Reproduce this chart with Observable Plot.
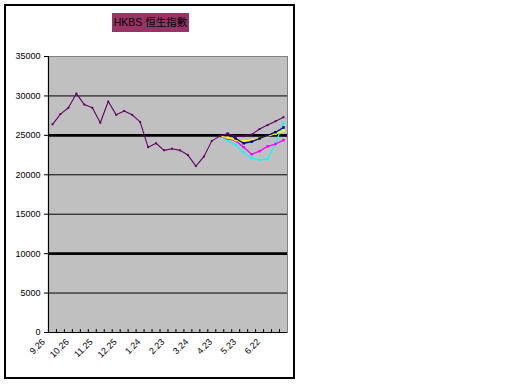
<!DOCTYPE html>
<html>
<head>
<meta charset="utf-8">
<script src="https://cdn.jsdelivr.net/npm/d3@7"></script>
<script src="https://cdn.jsdelivr.net/npm/@observablehq/plot@0.6"></script>
<style>
  html, body { margin: 0; padding: 0; background: #fff; }
  #wrap { position: relative; width: 512px; height: 384px; background: #fff; overflow: hidden; }
  #frame { position: absolute; left: 4px; top: 4px; width: 291px; height: 375px; border: 2px solid #000; box-sizing: border-box; }
  #title { position: absolute; left: 112px; top: 13px; width: 77px; height: 19px; background: #993366; color: #000;
           font: 10.5px "Liberation Sans", "Noto Sans CJK TC", sans-serif; line-height: 19px; text-align: center; white-space: nowrap; }
  #chart { position: absolute; left: 0; top: 0; }
</style>
</head>
<body>
<div id="wrap">
  <div id="frame"></div>
  <div id="chart"></div>
  <div id="title">HKBS 恒生指數</div>
</div>
<script>
// Categories (10-day steps) and shown tick labels
const categories = ["9.26","10.6","10.16","10.26","11.5","11.15","11.25","12.5","12.15","12.25",
  "1.4","1.14","1.24","2.3","2.13","2.23","3.4","3.14","3.24","4.3",
  "4.13","4.23","5.3","5.13","5.23","6.2","6.12","6.22","7.2","7.12"];
const tickLabels = ["9.26","10.26","11.25","12.25","1.24","2.23","3.24","4.23","5.23","6.22"];
const yTicks = [0, 5000, 10000, 15000, 20000, 25000, 30000, 35000];
const thinGrid = [5000, 15000, 20000, 30000];
const thickGrid = [10000, 25000];

// Main index series
const hsi = [26400, 27700, 28500, 30300, 28900, 28500, 26600, 29300, 27600, 28100,
  27600, 26700, 23500, 24000, 23100, 23300, 23100, 22500, 21100, 22300,
  24300, 24900, 25200, 24900, 24900, 25100, 25800, 26300, 26800, 27300];

// Scenario series from 4.23 onward
const forecastStart = 21;
const navySeries   = [24900, 25200, 24600, 24000, 24200, 24600, 25000, 25400, 26000];
const yellowSeries = [24900, 24700, 24400, 24300, 24400, 24600, 24900, 25200, 25600];
const pinkSeries   = [24900, 24600, 24300, 23500, 22600, 23000, 23600, 23900, 24400];
const cyanSeries   = [24900, 24300, 23800, 22800, 22100, 21900, 22000, 24000, 26600];

const seriesNames  = ["cyan", "pink", "yellow", "navy"];
const seriesValues = [cyanSeries, pinkSeries, yellowSeries, navySeries];
const seriesColors = ["#00FFFF", "#FF00FF", "#FFFF00", "#000080"];
const mainColor = "#660066";

const mainData = categories.map((c, i) => ({cat: c, v: hsi[i]}));
const fcData = [];
seriesNames.forEach((n, k) => {
  seriesValues[k].forEach((v, j) => fcData.push({s: n, cat: categories[forecastStart + j], v}));
});

const font = "'Liberation Sans', 'DejaVu Sans', sans-serif";
const marks = [
  Plot.frame({fill: "#C0C0C0", stroke: "#808080"}),
  Plot.ruleY(thinGrid, {stroke: "#000", strokeWidth: 1}),
  Plot.ruleY(thickGrid, {stroke: "#000", strokeWidth: 2.6}),
];
seriesNames.forEach((n, k) => {
  const d = fcData.filter(r => r.s === n);
  marks.push(Plot.line(d, {x: "cat", y: "v", stroke: seriesColors[k], strokeWidth: 1.3}));
  marks.push(Plot.dot(d.slice(1), {x: "cat", y: "v", symbol: "square", r: 1.4, fill: seriesColors[k], stroke: "none"}));
});
marks.push(
  Plot.line(mainData, {x: "cat", y: "v", stroke: mainColor, strokeWidth: 1.1}),
  Plot.dot(mainData, {x: "cat", y: "v", symbol: "square", r: 1.1, fill: mainColor, stroke: "none"}),
  Plot.ruleY([0], {stroke: "#000", strokeWidth: 1.2}),
  Plot.ruleX([categories[0]], {y1: 0, y2: 35000, dx: -4, stroke: "#000", strokeWidth: 1.2}),
  Plot.ruleX(categories, {y1: 0, y2: 380, dx: -4, stroke: "#000", strokeWidth: 1}),
  Plot.axisY(yTicks, {tickSize: 4, tickPadding: 4, tickFormat: d => String(d), fontSize: 9, stroke: "#000"}),
  Plot.axisX(tickLabels, {tickSize: 0, tickRotate: -45, textAnchor: "end", dx: -9, dy: -4, fontSize: 9})
);

const chart = Plot.plot({
  width: 512, height: 384,
  marginLeft: 48, marginRight: 225, marginTop: 56, marginBottom: 52,
  style: {background: "transparent", fontFamily: font, color: "#000", overflow: "visible"},
  x: {type: "point", domain: categories, padding: 0.5, round: false, label: null},
  y: {domain: [0, 35000], label: null},
  marks
});
document.getElementById("chart").appendChild(chart);
</script>
</body>
</html>
